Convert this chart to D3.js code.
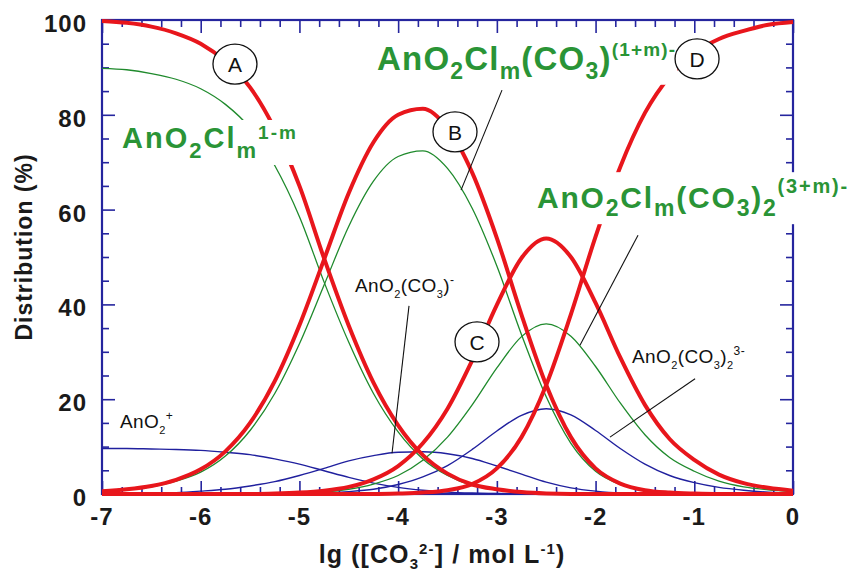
<!DOCTYPE html>
<html><head><meta charset="utf-8">
<script src="https://cdn.jsdelivr.net/npm/d3@7"></script>
<style>body{margin:0;background:#fff}svg{display:block}</style>
</head><body>
<svg id="chart" width="850" height="571"></svg>
<script>
// ---------- data ----------
const lgCO3 = [-7,-6.75,-6.5,-6.25,-6,-5.75,-5.5,-5.25,-5,-4.75,-4.5,-4.25,-4,-3.75,-3.5,-3.25,-3,-2.75,-2.5,-2.25,-2,-1.75,-1.5,-1.25,-1,-0.75,-0.5,-0.25,0];
// red totals A, B, C, D
const totalA = [99.8,99.4,98.6,97.2,95.0,91.3,85.8,77.0,65.0,49.7,35.5,23.5,14.5,8.2,4.3,2.0,1.0,0.4,0.1,0,0,0,0,0,0,0,0,0,0];
const totalB = [0.6,1.0,1.7,3.0,5.2,9.0,15.0,23.8,35.6,49.5,63.5,74.2,80.0,81.3,77.2,67.8,54.0,37.8,23.0,12.0,5.4,2.2,0.8,0.3,0.1,0,0,0,0];
const totalC = [0,0,0,0,0,0,0,0.1,0.3,0.7,1.5,3.1,5.9,10.7,18.0,28.2,39.9,49.8,53.9,50.0,40.3,28.8,18.8,11.6,7.2,4.1,2.3,1.3,0.7];
const totalD = [0,0,0,0,0,0,0,0,0,0,0,0,0.1,0.3,0.8,2.1,5.4,12.0,23.0,37.9,54.3,69.0,80.4,88.1,93.0,96.0,97.7,99.0,99.6];
// green: chloride complexes
const chloroA = [89.8,89.5,88.7,87.5,85.5,82.2,77.2,69.3,58.5,44.7,32.0,21.2,13.1,7.4,3.9,1.8,0.9,0.4,0.1,0,0,0,0,0,0,0,0,0,0];
const chloroB = [0.5,0.9,1.5,2.7,4.6,8.0,13.4,21.2,31.7,44.1,56.5,66.0,71.2,72.4,68.7,60.3,48.1,33.6,20.5,10.7,4.8,2.0,0.7,0.3,0.1,0,0,0,0];
const chloroC = [0,0,0,0,0,0,0,0.1,0.2,0.4,1.0,2.1,3.9,7.1,12.0,18.8,26.6,33.2,35.9,33.3,26.9,19.2,12.5,7.7,4.8,2.7,1.5,0.9,0.5];
// blue: AnO2+, AnO2(CO3)-, AnO2(CO3)2 3-
const freeA = [9.6,9.6,9.5,9.4,9.2,8.8,8.3,7.4,6.3,4.9,3.5,2.3,1.4,0.8,0.4,0.2,0.1,0,0,0,0,0,0,0,0,0,0,0,0];
const freeB = [0.1,0.1,0.2,0.3,0.6,1.0,1.7,2.6,3.9,5.4,7.0,8.1,8.8,8.9,8.5,7.5,5.9,4.2,2.5,1.3,0.6,0.2,0.1,0,0,0,0,0,0];
const freeC = [0,0,0,0,0,0,0,0,0.1,0.2,0.5,1.0,2.0,3.6,6.0,9.4,13.3,16.6,18.0,16.7,13.4,9.6,6.3,3.9,2.4,1.4,0.8,0.4,0.2];

const xTickValues = [-7,-6,-5,-4,-3,-2,-1,0];
const xTickLabels = ["-7","-6","-5","-4","-3","-2","-1","0"];
const yTickValues = [0,20,40,60,80,100];
const yTickLabels = ["0","20","40","60","80","100"];

// circled letters [letter, x, y]
const circleLabels = [["A",-5.653,90.7],["B",-3.424,76.4],["C",-3.201,32.1],["D",-0.972,91.8]];
// leader lines [x1,y1,x2,y2]
const leaders = [[-2.948,85.2,-3.363,64.1],[-3.89,39.7,-4.062,8.6],[-1.57,54.6,-2.158,31.4],[-0.992,24.3,-1.854,12.0]];

// ---------- chart ----------
const svg = d3.select("#chart");
const x = d3.scaleLinear().domain([-7,0]).range([102,793]);
const y = d3.scaleLinear().domain([0,100]).range([494,20]);

const AX = "#25259e", RED = "#e8161c", GREEN = "#1f8a2c", BLUE = "#20209e", LGREEN = "#2a9436";
const FONT = "'Liberation Sans', Arial, Helvetica, sans-serif";

function tickLayer(gen, tx, ty, vals, size) {
  const g = svg.append("g").attr("transform", `translate(${tx},${ty})`)
    .call(gen.tickValues(vals).tickSize(size).tickFormat(""));
  g.select(".domain").remove();
  g.selectAll("line").attr("stroke", AX).attr("stroke-width", 1.6);
}
const xMinor = d3.range(0, 36).map(i => -7 + i * 0.2).filter(v => Math.abs(v - Math.round(v)) > 1e-6);
const yMinor = d3.range(0, 21).map(i => i * 5).filter(v => v % 20 !== 0);
const [x0, x1] = x.range(), [y0, y1] = y.range();

tickLayer(d3.axisBottom(x), 0, y0, xTickValues, -13);
tickLayer(d3.axisBottom(x), 0, y0, xMinor, -7);
tickLayer(d3.axisTop(x), 0, y1, xTickValues, -13);
tickLayer(d3.axisTop(x), 0, y1, xMinor, -7);
tickLayer(d3.axisLeft(y), x0, 0, yTickValues, -13);
tickLayer(d3.axisLeft(y), x0, 0, yMinor, -7);
tickLayer(d3.axisRight(y), x1, 0, yTickValues, -13);
tickLayer(d3.axisRight(y), x1, 0, yMinor, -7);

svg.append("rect").attr("x", x0).attr("y", y1).attr("width", x1 - x0).attr("height", y0 - y1)
  .attr("fill", "none").attr("stroke", AX).attr("stroke-width", 2.2);

// tick labels
svg.append("g").selectAll("text").data(xTickValues).join("text")
  .attr("x", d => x(d)).attr("y", y0 + 31).attr("text-anchor", "middle")
  .attr("font-family", FONT).attr("font-weight", "bold").attr("font-size", 24).attr("letter-spacing", 1)
  .attr("fill", "#1a1a1a").text((d, i) => xTickLabels[i]);
svg.append("g").selectAll("text").data(yTickValues).join("text")
  .attr("x", x0 - 15).attr("y", d => y(d) + 12).attr("text-anchor", "end")
  .attr("font-family", FONT).attr("font-weight", "bold").attr("font-size", 24).attr("letter-spacing", 1)
  .attr("fill", "#1a1a1a").text((d, i) => yTickLabels[i]);

// ---------- rich text helper ----------
function rich(px, py, parts, o) {
  const t = svg.append("text").attr("x", px).attr("y", py)
    .attr("font-family", FONT).attr("font-weight", o.weight).attr("font-size", o.size)
    .attr("letter-spacing", o.ls || 0).attr("fill", o.color);
  let cur = 0;
  parts.forEach(p => {
    const kind = p[1] || "n";
    let off = 0, fs = o.size;
    if (kind === "sub") { off = o.subDy; fs = o.subSize; }
    if (kind === "sup") { off = -o.supDy; fs = o.supSize; }
    t.append("tspan").attr("dy", off - cur).attr("font-size", fs).text(p[0]);
    cur = off;
  });
  return t;
}
function withBg(t, pad) {
  const b = t.node().getBBox();
  svg.insert("rect", function() { return t.node(); })
    .attr("x", b.x - pad).attr("y", b.y - pad).attr("width", b.width + 2 * pad).attr("height", b.height + 2 * pad)
    .attr("fill", "#fff");
}

// axis titles
rich(x((-7 + 0) / 2) - 4, y0 + 69, [["lg (["], ["CO"], ["3", "sub"], ["2-", "sup"], ["] / mol L"], ["-1", "sup"], [")"]],
  {weight: "bold", size: 25, ls: 1.1, color: "#1a1a1a", subSize: 15, subDy: 6, supSize: 15, supDy: 9})
  .attr("text-anchor", "start").call(t => {
    const w = t.node().getComputedTextLength();
    t.attr("x", 442 - w / 2);
  });
svg.append("text").attr("transform", `translate(32,${(y0 + y1) / 2 - 10}) rotate(-90)`)
  .attr("text-anchor", "middle").attr("font-family", FONT).attr("font-weight", "bold")
  .attr("font-size", 23).attr("letter-spacing", 1).attr("fill", "#1a1a1a").text("Distribution (%)");

// ---------- curves ----------
const line = d3.line().x((d, i) => x(lgCO3[i])).y(d => y(d)).curve(d3.curveMonotoneX);
const series = [
  [freeA, BLUE, 1.4], [freeB, BLUE, 1.4], [freeC, BLUE, 1.4],
  [chloroA, GREEN, 1.3], [chloroB, GREEN, 1.3], [chloroC, GREEN, 1.3],
  [totalA, RED, 4], [totalB, RED, 4], [totalC, RED, 4], [totalD, RED, 4]
];
svg.append("g").selectAll("path").data(series).join("path")
  .attr("d", d => line(d[0])).attr("fill", "none").attr("stroke", d => d[1]).attr("stroke-width", d => d[2])
  .attr("stroke-linejoin", "round");

// ---------- species labels ----------
const big1 = rich(x(-6.797), y(73.0), [["AnO"], ["2", "sub"], ["Cl"], ["m", "sub"], ["1-m", "sup"]],
  {weight: "bold", size: 29, ls: 2.0, color: LGREEN, subSize: 22, subDy: 10, supSize: 19, supDy: 9});
withBg(big1, 2);
const big2 = rich(x(-4.214), y(89.5), [["AnO"], ["2", "sub"], ["Cl"], ["m", "sub"], ["(CO"], ["3", "sub"], [")"], ["(1+m)-", "sup"]],
  {weight: "bold", size: 33, ls: 1.2, color: LGREEN, subSize: 23, subDy: 9, supSize: 19, supDy: 14});
withBg(big2, 1);
const big3 = rich(x(-2.593), y(60.3), [["AnO"], ["2", "sub"], ["Cl"], ["m", "sub"], ["(CO"], ["3", "sub"], [")"], ["2", "sub"], ["(3+m)-", "sup"]],
  {weight: "bold", size: 30, ls: 1.8, color: LGREEN, subSize: 23, subDy: 8, supSize: 20, supDy: 15});
withBg(big3, 3);

const smallOpt = {weight: "normal", size: 19, ls: 0.4, color: "#111", subSize: 11, subDy: 6, supSize: 12, supDy: 8};
rich(x(-6.818), y(13.9), [["AnO"], ["2", "sub"], ["+", "sup"]], smallOpt);
rich(x(-4.437), y(42.6), [["AnO"], ["2", "sub"], ["(CO"], ["3", "sub"], [")"], ["-", "sup"]], smallOpt);
rich(x(-1.631), y(27.6), [["AnO"], ["2", "sub"], ["(CO"], ["3", "sub"], [")"], ["2", "sub"], ["3-", "sup"]], smallOpt);

// leader lines
svg.append("g").selectAll("line").data(leaders).join("line")
  .attr("x1", d => x(d[0])).attr("y1", d => y(d[1])).attr("x2", d => x(d[2])).attr("y2", d => y(d[3]))
  .attr("stroke", "#111").attr("stroke-width", 1.1);

// circled letters
const cg = svg.append("g").selectAll("g").data(circleLabels).join("g")
  .attr("transform", d => `translate(${x(d[1])},${y(d[2])})`);
cg.append("ellipse").attr("rx", 22).attr("ry", 20).attr("fill", "#fff").attr("stroke", "#111").attr("stroke-width", 1.3);
cg.append("text").attr("text-anchor", "middle").attr("y", 8).attr("font-family", FONT)
  .attr("font-size", 21).attr("fill", "#111").text(d => d[0]);
</script>
</body></html>
